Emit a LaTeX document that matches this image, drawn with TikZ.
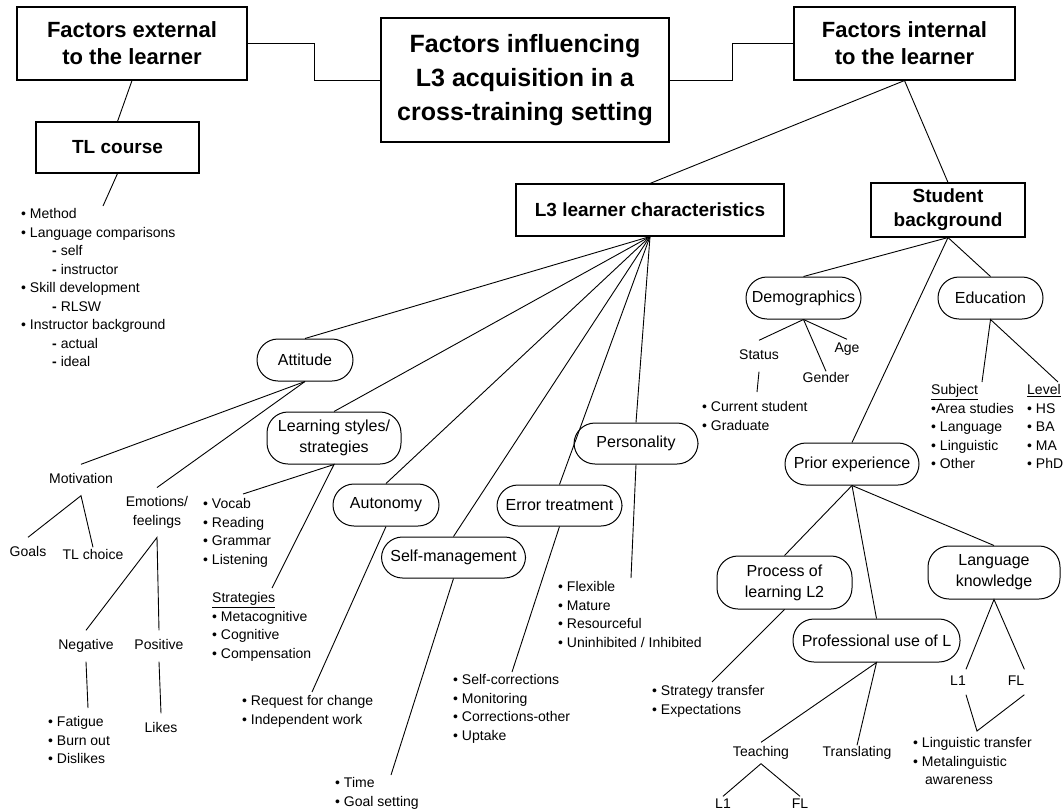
\documentclass[tikz,border=0pt]{standalone}
\usepackage{fontspec}
\setmainfont{Liberation Sans}
\usepackage{tikz}
\usetikzlibrary{positioning}

\begin{document}
\begin{tikzpicture}[x=1pt, y=-1pt,
    box/.style={draw, line width=1.1pt, align=center, inner sep=0pt, font=\fontsize{19}{24}\selectfont\bfseries},
    bubble/.style={draw, line width=1pt, rounded corners=21pt, align=center, inner sep=0pt, minimum height=42pt, font=\fontsize{16}{21}\selectfont},
    lbl/.style={inner xsep=0pt, inner ysep=9pt, text height=10pt, text depth=3pt, font=\fontsize{14}{18.5}\selectfont},
    itemlist/.style={anchor=north west, align=left, inner sep=0pt, font=\fontsize{14}{18.5}\selectfont},
    link/.style={line width=0.9pt}]
    \useasboundingbox (0,0) rectangle (1063,811);

    % top row
    \node[box, minimum width=230pt, minimum height=73pt, font=\fontsize{22}{27}\selectfont\bfseries] (ext) at (132,43.5) {Factors external\\to the learner};
    \node[box, minimum width=288pt, minimum height=124pt, font=\fontsize{25}{34}\selectfont\bfseries] (central) at (525,80) {Factors influencing\\L3 acquisition in a\\cross-training setting};
    \node[box, minimum width=221pt, minimum height=73pt, font=\fontsize{22}{27}\selectfont\bfseries] (int) at (904.5,43.5) {Factors internal\\to the learner};
    \draw[link] (ext.east) -- ++(67,0) |- (central.west);
    \draw[link] (central.east) -- ++(63,0) |- (int.west);

    % external: TL course
    \node[box, minimum width=163pt, minimum height=51pt] (tlc) at (117.5,147.5) {TL course};
    \node[itemlist] (tllist) at (21,208.5) {• Method\\• Language comparisons\\\hspace*{31pt}\textbf{-} self\\\hspace*{31pt}\textbf{-} instructor\\• Skill development\\\hspace*{31pt}\textbf{-} RLSW\\• Instructor background\\\hspace*{31pt}\textbf{-} actual\\\hspace*{31pt}\textbf{-} ideal};
    \coordinate (tlend) at (103,206);
    \draw[link] (ext.south) -- (tlc.north);
    \draw[link] (tlc.south) -- (tlend);

    % internal: two main branches
    \node[box, minimum width=268pt, minimum height=52pt] (l3) at (650,210) {L3 learner characteristics};
    \node[box, minimum width=154pt, minimum height=54pt] (sb) at (948,210) {Student\\background};
    \draw[link] (int.south) -- (l3.north);
    \draw[link] (int.south) -- (sb.north);

    % learner characteristics
    \node[bubble, minimum width=96pt] (att) at (305,360) {Attitude};
    \node[bubble, minimum width=134pt, minimum height=52pt] (lss) at (334,438) {Learning styles/\\strategies};
    \node[bubble, minimum width=106pt] (aut) at (386,505) {Autonomy};
    \node[bubble, minimum width=144pt, minimum height=41pt] (selfm) at (453.5,557.5) {Self-management};
    \node[bubble, minimum width=125pt, minimum height=41pt] (err) at (559.5,505.5) {Error treatment};
    \node[bubble, minimum width=124pt, minimum height=41pt] (pers) at (636,443.5) {Personality};
    \foreach \n in {att,lss,aut,selfm,err,pers}
        \draw[link] (l3.south) -- (\n.north);

    % attitude
    \node[lbl] (motiv) at (81,480) {Motivation};
    \node[inner xsep=0pt, inner ysep=9pt, align=center, font=\fontsize{14}{18.5}\selectfont] (emo) at (157,512.5) {Emotions/\\feelings};
    \node[lbl] (goals) at (28,553) {Goals};
    \node[lbl, inner ysep=2pt] (tlch) at (93,556) {TL choice};
    \node[lbl] (neg) at (86,646) {Negative};
    \node[lbl] (pos) at (159,646) {Positive};
    \node[lbl] (likes) at (161,729) {Likes};
    \node[itemlist] (neglist) at (48,716.5) {• Fatigue\\• Burn out\\• Dislikes};
    \coordinate (negend) at (88,708);
    \draw[link] (att.south) -- (motiv.north);
    \draw[link] (att.south) -- (emo.north);
    \draw[link] (goals.north) -- (motiv.south) -- (tlch.north);
    \draw[link] (neg.north) -- (emo.south) -- (pos.north);
    \draw[link] (neg.south) -- (negend);
    \draw[link] (pos.south) -- (likes.north);

    % learning styles, autonomy, self-management, error treatment, personality
    \node[itemlist] (vocablist) at (203,498.5) {• Vocab\\• Reading\\• Grammar\\• Listening};
    \node[itemlist] (stratlist) at (212,592.5) {\underline{Strategies}\\• Metacognitive\\• Cognitive\\• Compensation};
    \node[itemlist] (autlist) at (242,695.5) {• Request for change\\• Independent work};
    \node[itemlist] (selflist) at (335,777.5) {• Time\\• Goal setting};
    \node[itemlist] (errlist) at (453,674.5) {• Self-corrections\\• Monitoring\\• Corrections-other\\• Uptake};
    \node[itemlist] (perslist) at (558,581.5) {• Flexible\\• Mature\\• Resourceful\\• Uninhibited / Inhibited};
    \coordinate (vocabend) at (243,494);
    \coordinate (stratend) at (272,588);
    \coordinate (autend) at (312,692);
    \coordinate (selfend) at (391,775);
    \coordinate (errend) at (512,672);
    \coordinate (persend) at (631,578);
    \draw[link] (vocabend) -- (lss.south) -- (stratend);
    \draw[link] (aut.south) -- (autend);
    \draw[link] (selfm.south) -- (selfend);
    \draw[link] (err.south) -- (errend);
    \draw[link] (pers.south) -- (persend);

    % student background
    \node[bubble, minimum width=115pt] (demo) at (803.5,298) {Demographics};
    \node[bubble, minimum width=105pt] (edu) at (990.5,298) {Education};
    \node[bubble, minimum width=134pt] (prior) at (852,464) {Prior experience};
    \draw[link] (sb.south) -- (demo.north);
    \draw[link] (sb.south) -- (edu.north);
    \draw[link] (sb.south) -- (prior.north);

    % demographics
    \node[lbl] (status) at (759,356) {Status};
    \node[lbl, inner ysep=1pt] (gender) at (826,379) {Gender};
    \node[lbl, inner ysep=3pt] (age) at (847,349) {Age};
    \node[itemlist] (statlist) at (702,401.5) {• Current student\\• Graduate};
    \coordinate (statend) at (757,392);
    \foreach \n in {status,gender,age}
        \draw[link] (demo.south) -- (\n.north);
    \draw[link] (status.south) -- (statend);

    % education
    \node[itemlist] (subjlist) at (931,384.5) {\underline{Subject}\\•Area studies\\• Language\\• Linguistic\\• Other};
    \node[itemlist] (levellist) at (1027,384.5) {\underline{Level}\\• HS\\• BA\\• MA\\• PhD};
    \coordinate (subjend) at (982,382);
    \coordinate (levelend) at (1058,382);
    \draw[link] (subjend) -- (edu.south) -- (levelend);

    % prior experience
    \node[bubble, minimum width=135pt, minimum height=53pt] (proc) at (784.5,582.5) {Process of\\learning L2};
    \node[bubble, minimum width=167pt, minimum height=43pt] (prof) at (876.5,640.5) {Professional use of L};
    \node[bubble, minimum width=132pt, minimum height=53pt] (lang) at (994,572.5) {Language\\knowledge};
    \foreach \n in {proc,prof,lang}
        \draw[link] (prior.south) -- (\n.north);
    \node[itemlist] (proclist) at (652,685.5) {• Strategy transfer\\• Expectations};
    \coordinate (procend) at (712,682);
    \draw[link] (proc.south) -- (procend);

    % professional use
    \node[lbl, inner ysep=4pt] (teach) at (761,753) {Teaching};
    \node[lbl, inner ysep=1pt] (transl) at (857,753) {Translating};
    \node[lbl, inner ysep=2pt] (tl1) at (723,805) {L1};
    \node[lbl, inner ysep=2pt] (tfl) at (800,805) {FL};
    \draw[link] (teach.north) -- (prof.south) -- (transl.north);
    \draw[link] (tl1.north) -- (teach.south) -- (tfl.north);

    % language knowledge
    \node[lbl, inner ysep=6pt] (ll1) at (958,682) {L1};
    \node[lbl, inner ysep=6pt] (lfl) at (1016,682) {FL};
    \node[itemlist] (langlist) at (913,737.5) {• Linguistic transfer\\• Metalinguistic\\\hspace*{12pt}awareness};
    \coordinate (langv) at (977,731);
    \draw[link] (ll1.north east) -- (lang.south) -- (lfl.north east);
    \draw[link] (ll1.south east) -- (langv) -- (lfl.south east);
\end{tikzpicture}
\end{document}
